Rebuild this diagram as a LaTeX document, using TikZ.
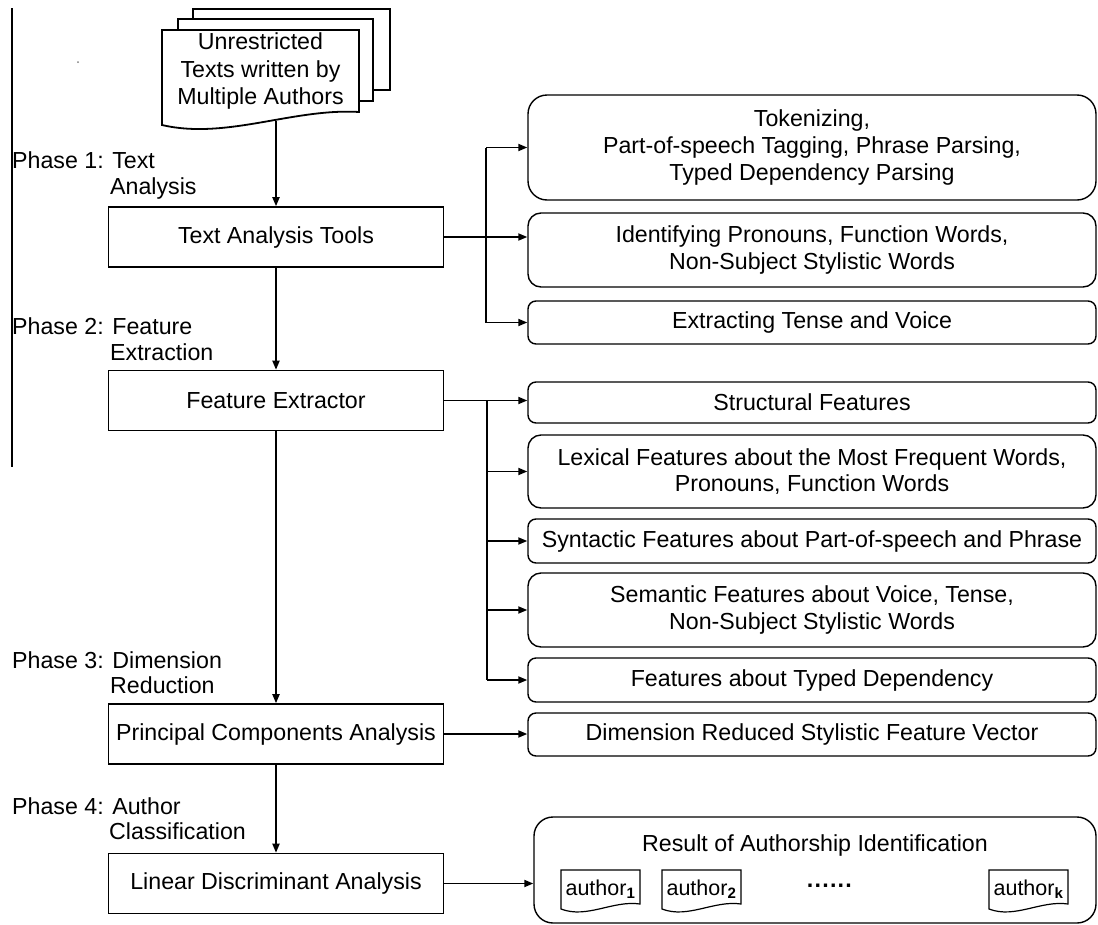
\documentclass[tikz,border=0pt]{standalone}
\usepackage{fontspec}
\setmainfont{Liberation Sans}
\usetikzlibrary{arrows.meta,calc}
\begin{document}
\begin{tikzpicture}[x=1pt,y=-1pt,
  font=\fontsize{23.2}{26.7}\selectfont,
  ln/.style={line width=1.8pt, draw=black},
  arr/.style={ln, -{Triangle[length=9pt,width=7pt]}},
  sq/.style={draw, line width=1.6pt, minimum width=335pt, minimum height=60pt, inner sep=2pt},
  rb/.style={draw, line width=1.4pt, rounded corners=#1, minimum width=568pt, inner sep=2pt, align=center},
  lbl/.style={anchor=base west, inner sep=0pt},
  authfont/.style={font=\fontsize{21.5}{24}\selectfont}
]
\useasboundingbox (0,0) rectangle (1098,924);

% stray border line and dot
\draw[line width=1.2pt] (12,8) -- (12,467);
\fill[gray] (78,62) circle (1pt);

% document stack
\draw[ln] (193,19) -- (193,9) -- (390,9) -- (390,90) -- (373,90);
\draw[ln] (178,30) -- (178,19) -- (373,19) -- (373,101) -- (359,101);
\draw[ln, fill=white] (162,30) -- (162,125) .. controls +(64,15) and +(-66,-4) .. (359,112) -- (359,30) -- cycle;
\node[align=center, font=\fontsize{23.2}{27.5}\selectfont] (doc) at (260.5,71) {Unrestricted\\Texts written by\\Multiple Authors};
\coordinate (docb) at (276,121);

% phase labels
\node[lbl] (p1a) at (12,168) {Phase 1: Text};
\node[lbl] (p1b) at (110,194) {Analysis};
\node[lbl] (p2a) at (12,334) {Phase 2: Feature};
\node[lbl] (p2b) at (110,360) {Extraction};
\node[lbl] (p3a) at (12,668) {Phase 3: Dimension};
\node[lbl] (p3b) at (110,693) {Reduction};
\node[lbl] (p4a) at (12,814) {Phase 4: Author};
\node[lbl] (p4b) at (109,839) {Classification};

% main column
\node[sq] (tat) at (276,237) {Text Analysis Tools};
\node[sq] (fex) at (276,400.5) {Feature Extractor};
\node[sq] (pca) at (276,734) {Principal Components Analysis};
\node[sq] (lda) at (276,883.5) {Linear Discriminant Analysis};

% right boxes
\node[rb=19pt, minimum height=105pt] (tok) at (812,147.5) {Tokenizing,\\Part-of-speech Tagging, Phrase Parsing,\\Typed Dependency Parsing};
\node[rb=13pt, minimum height=74pt] (idp) at (812,250) {Identifying Pronouns, Function Words,\\Non-Subject Stylistic Words};
\node[rb=8pt, minimum height=43pt] (ext) at (812,322.5) {Extracting Tense and Voice};
\node[rb=8pt, minimum height=41pt] (str) at (812,402.5) {Structural Features};
\node[rb=13pt, minimum height=73pt] (lex) at (812,471.5) {Lexical Features about the Most Frequent Words,\\Pronouns, Function Words};
\node[rb=8pt, minimum height=44pt] (syn) at (812,541) {Syntactic Features about Part-of-speech and Phrase};
\node[rb=13pt, minimum height=74pt] (sem) at (812,610) {Semantic Features about Voice, Tense,\\Non-Subject Stylistic Words};
\node[rb=8pt, minimum height=44pt] (typ) at (812,680) {Features about Typed Dependency};
\node[rb=8pt, minimum height=43pt] (dim) at (812,734.5) {Dimension Reduced Stylistic Feature Vector};
\node[rb=19pt, minimum height=106pt, minimum width=562pt] (res) at (815,870) {};
\node[anchor=base] (rest) at (815,851) {Result of Authorship Identification};

% author documents
\foreach \xa/\nm/\s in {561/a1/1, 662/a2/2, 989/ak/k} {
  \draw[line width=1.2pt, fill=white] (\xa,870) -- (\xa,909) .. controls +(26,10) and +(-27,-4) .. (\xa+79,904) -- (\xa+79,870) -- cycle;
  \node[authfont, anchor=base] (\nm) at (\xa+39.5,895) {author\textsubscript{\bfseries\s}};
}
\node[anchor=base, font=\fontsize{23.2}{26.7}\selectfont\bfseries] (dots) at (830,893) {······};

% main arrows
\draw[arr] (docb) -- (docb |- tat.north);
\draw[arr] (tat.south) -- (fex.north);
\draw[arr] (fex.south) -- (pca.north);
\draw[arr] (pca.south) -- (lda.north);

% text analysis branches
\coordinate (ta) at (486,0);
\draw[arr] (tat.east) -- (tat.east -| idp.west);
\draw[ln] (ta |- tok.west) -- (ta |- ext.west);
\draw[arr] (ta |- tok.west) -- (tok.west);
\draw[arr] (ta |- ext.west) -- (ext.west);

% feature branches
\coordinate (fa) at (487,0);
\draw[arr] (fex.east) -- (fex.east -| str.west);
\draw[ln] (fa |- fex.east) -- (fa |- typ.west);
\foreach \n in {lex,syn,sem,typ} \draw[arr] (fa |- \n.west) -- (\n.west);

% pca / lda outputs
\draw[arr] (pca.east) -- (pca.east -| dim.west);
\draw[arr] (lda.east) -- (lda.east -| res.west);
\end{tikzpicture}
\end{document}
